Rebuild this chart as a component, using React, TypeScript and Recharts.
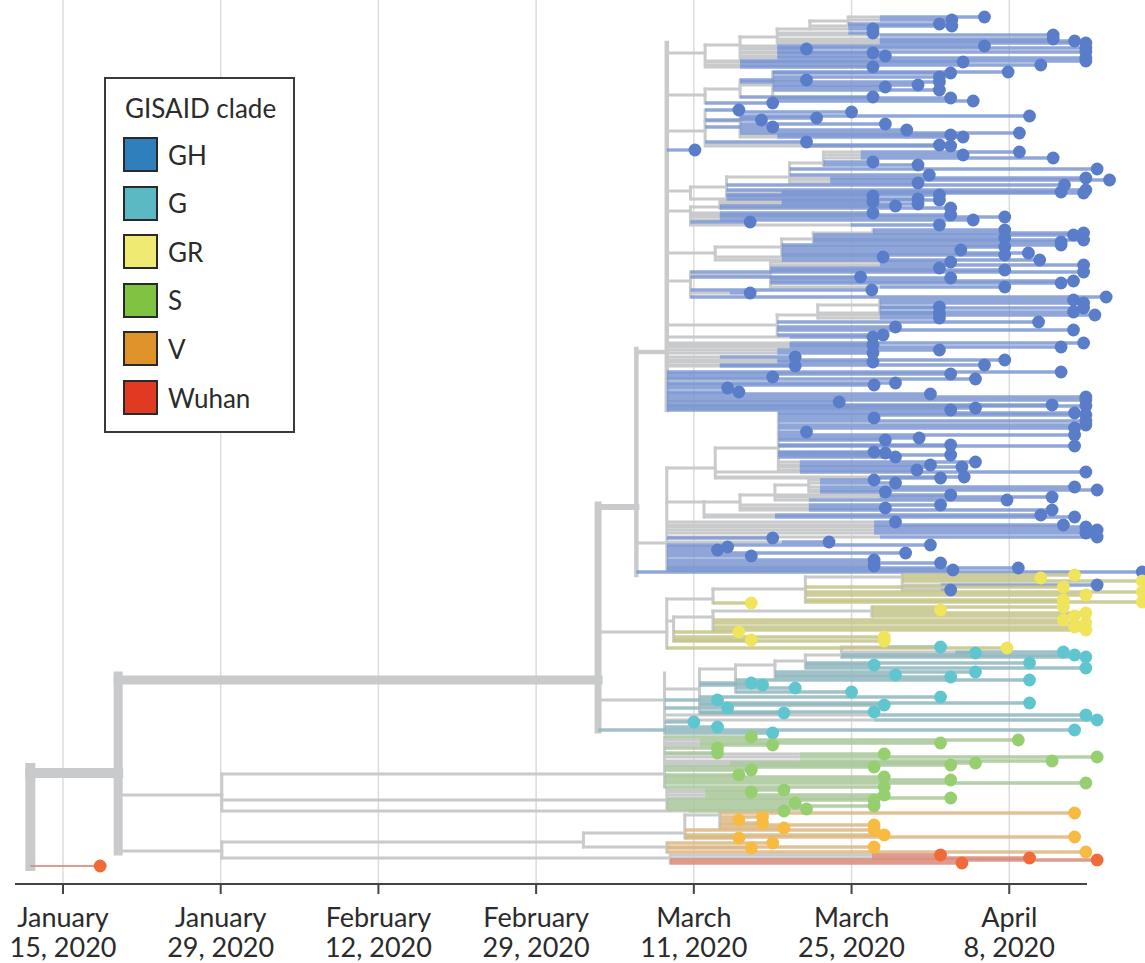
import React from "react";
import { ComposedChart, XAxis, YAxis, ReferenceLine, Scatter } from "recharts";

const FONT = "Lato, 'Noto Sans', sans-serif";

// x = days after January 15, 2020; y = leaf order in the tree (top to bottom)
const tickDays = [0, 14, 28, 42, 56, 70, 84];
const tickLabels = [
  ["January", "15, 2020"],
  ["January", "29, 2020"],
  ["February", "12, 2020"],
  ["February", "29, 2020"],
  ["March", "11, 2020"],
  ["March", "25, 2020"],
  ["April", "8, 2020"],
];

// leaf: [row, parent node day, day the clade colour starts, sampling day]
type Leaf = [number, number, number, number];
// edge: [row, from day, to day]; link: [day, top row, bottom row]
type Edge = [number, number, number];
type Link = [number, number, number];

const ghLeaves: Leaf[] = [
  [0, 69.7, 72.5, 81.8], [0.75, 69.7, 72.5, 78.9], [1.75, 69.7, 69.7, 77.8], [2.25, 66.3, 69.7, 78.9],
  [3, 66.3, 69.7, 71.9], [4, 63.4, 69.7, 71.9], [4.5, 63.4, 72.5, 87.9], [5.5, 63.4, 72.5, 87.9],
  [6, 63.4, 72.5, 89.8], [6.5, 63.4, 72.5, 90.8], [7.25, 60.1, 63.4, 81.8], [7.75, 60.1, 63.4, 90.8],
  [8, 60.1, 63.4, 66.0], [8.75, 60.1, 63.4, 90.8], [9, 60.1, 63.4, 71.9], [9.75, 60.1, 63.4, 73.0],
  [10.25, 60.1, 63.4, 90.8], [11, 57.0, 60.1, 90.8], [11.25, 57.0, 60.1, 79.9], [12, 57.0, 60.1, 86.8],
  [12.5, 57.0, 60.1, 71.9],
  [13.75, 63.0, 63.0, 83.9], [14, 63.0, 63.0, 78.8], [15, 63.0, 63.0, 77.8], [15.75, 60.1, 60.1, 66.0],
  [16.25, 60.1, 60.1, 77.8], [17, 63.0, 63.0, 75.9], [17.5, 63.0, 63.0, 73.0], [18.25, 63.0, 63.0, 77.8],
  [20, 60.1, 60.1, 71.9], [20.25, 63.0, 63.0, 78.8], [21, 63.0, 63.0, 80.8], [21.5, 57.0, 57.0, 63.0],
  [23.25, 57.0, 57.0, 60.0], [23.75, 60.1, 60.1, 70.0], [24.75, 60.1, 60.1, 85.8], [25.25, 60.1, 60.1, 66.9],
  [25.75, 57.0, 57.0, 62.0], [26.75, 60.1, 60.1, 73.0], [27.5, 57.0, 57.0, 63.0], [28.25, 60.1, 60.1, 74.9],
  [29, 60.1, 60.1, 84.9], [29.5, 60.1, 63.4, 78.8], [30, 60.1, 63.4, 79.9], [31.25, 57.0, 57.0, 66.0],
  [32, 57.0, 66.0, 77.8], [32.25, 57.0, 66.0, 78.8], [33.25, 53.6, 53.6, 56.1],
  [33.75, 67.5, 70.8, 84.9], [34.5, 67.5, 70.8, 79.9], [35.25, 67.5, 70.8, 87.9], [36.25, 67.5, 67.5, 71.9],
  [37, 67.5, 67.5, 75.9], [38, 64.5, 64.5, 91.8], [39.5, 64.5, 64.5, 76.9], [40.25, 64.5, 68.1, 90.8],
  [40.75, 64.5, 68.1, 92.9], [41.5, 64.5, 68.1, 75.9], [42, 58.9, 58.9, 88.9], [43.25, 58.9, 58.9, 90.8],
  [43.75, 58.9, 63.8, 88.6], [44, 58.9, 63.8, 90.6], [44.5, 58.9, 58.9, 77.8], [44.75, 58.9, 58.9, 71.9],
  [45.5, 55.7, 58.9, 75.9],
  [45.75, 58.3, 63.8, 77.8], [46.25, 58.3, 63.8, 71.9], [46.75, 58.3, 63.8, 75.9], [47.25, 58.3, 58.3, 73.9],
  [47.75, 58.3, 58.3, 78.8], [49, 55.7, 58.3, 71.9], [49.5, 55.7, 58.3, 78.8], [50, 55.7, 58.3, 83.6],
  [50.75, 55.7, 58.3, 80.8], [51.25, 55.7, 55.7, 61.0], [52, 55.7, 69.9, 77.8],
  [53.25, 71.9, 71.9, 83.6], [54, 71.9, 71.9, 90.6], [54.5, 66.6, 66.6, 89.7], [55.25, 66.6, 66.6, 83.6],
  [55.75, 66.6, 66.6, 90.6], [56.25, 66.6, 66.6, 88.6], [57, 63.8, 63.8, 88.6], [57.5, 63.8, 63.8, 83.6],
  [58.25, 63.8, 63.8, 79.7], [59, 63.8, 63.8, 85.7], [59.5, 63.8, 63.8, 83.6], [60, 57.9, 63.8, 72.8],
  [60.75, 57.9, 63.8, 86.7],
  [61.25, 62.8, 72.5, 78.8], [62, 62.8, 72.5, 90.6], [62.75, 62.8, 62.8, 77.8], [63.25, 62.8, 62.8, 83.6],
  [63.75, 55.7, 55.7, 90.6], [65, 55.7, 55.7, 70.8], [65.25, 62.8, 62.8, 78.8], [66, 62.8, 62.8, 89.7],
  [66.5, 62.8, 62.8, 88.6], [67.5, 62.8, 72.5, 83.6], [68.25, 55.7, 55.7, 71.8], [69, 55.7, 59.2, 61.0],
  [70, 55.7, 55.7, 92.6],
  [70.75, 72.5, 72.5, 89.7], [71.5, 72.5, 72.5, 90.6], [72.5, 72.5, 72.5, 77.8], [72.75, 72.5, 72.5, 90.6],
  [73.75, 72.5, 72.5, 89.7], [74, 67.0, 72.5, 77.8], [74.5, 67.0, 72.5, 91.6], [75.25, 67.0, 72.5, 77.8],
  [76.25, 63.4, 63.4, 86.6], [77.5, 63.4, 63.4, 73.9], [78.25, 63.4, 63.4, 89.7], [79.5, 63.4, 63.4, 72.8],
  [80, 53.6, 64.5, 71.9], [81.5, 53.6, 64.5, 90.6], [82, 53.6, 64.5, 71.9], [82.5, 53.6, 64.5, 88.6],
  [83.25, 53.6, 63.4, 77.8], [84, 53.6, 63.4, 71.9], [85, 53.6, 58.3, 65.0], [85.75, 53.6, 63.4, 83.6],
  [86.25, 53.6, 63.4, 71.9], [87, 53.6, 58.3, 81.8], [87.25, 53.6, 58.3, 65.0], [88.75, 53.6, 53.6, 88.6],
  [89.25, 53.6, 53.6, 78.8], [90, 53.6, 53.6, 63.0], [90.5, 53.6, 53.6, 81.0], [91.5, 53.6, 53.6, 73.9],
  [92, 53.6, 53.6, 72.0], [92.75, 53.6, 53.6, 59.0], [93.75, 53.6, 53.6, 60.0], [94.25, 53.6, 53.6, 77.0],
  [95, 53.6, 53.6, 90.8], [95.75, 53.6, 53.6, 90.8], [96.25, 53.6, 53.6, 68.9], [97, 53.6, 53.6, 87.8],
  [97.25, 53.6, 53.6, 90.8], [97.75, 53.6, 53.6, 81.0], [98.25, 53.6, 53.6, 78.8],
  [99, 63.5, 63.5, 89.8], [99.5, 63.5, 63.5, 90.8], [100.25, 63.5, 63.5, 72.0], [101, 63.5, 63.5, 90.8],
  [102, 63.5, 63.5, 90.8], [102.75, 63.5, 63.5, 89.8], [103.75, 63.5, 63.5, 66.0], [104.5, 63.5, 63.5, 89.8],
  [105.25, 63.5, 63.5, 76.0], [105.75, 63.5, 63.5, 73.0], [107, 63.5, 63.5, 78.8], [107.25, 63.5, 63.5, 89.8],
  [108.75, 63.5, 63.5, 72.0], [109, 63.5, 63.5, 73.0], [109.5, 63.5, 63.5, 78.8], [110, 63.5, 63.5, 73.9],
  [111.25, 63.5, 65.4, 81.0], [112, 63.5, 65.4, 77.0], [112.5, 63.5, 65.4, 79.8], [113.25, 63.5, 65.4, 75.8],
  [113.75, 57.9, 65.4, 90.8], [115, 57.9, 72.5, 80.0], [115.25, 57.9, 72.5, 77.9],
  [115.75, 66.2, 67.2, 72.0], [116.5, 66.2, 67.2, 73.9], [117.5, 66.2, 67.2, 89.8], [118.25, 66.2, 67.2, 91.8],
  [118.75, 66.2, 67.2, 73.0], [119.5, 63.2, 72.5, 78.8], [120, 63.2, 72.5, 87.8], [120.75, 63.2, 66.2, 83.8],
  [122, 60.1, 66.2, 77.9], [122.75, 60.1, 66.2, 73.0], [123.25, 60.1, 66.2, 87.8], [124.5, 56.9, 63.2, 86.8],
  [125, 56.9, 63.2, 89.8], [126.25, 53.6, 72.0, 73.9], [127, 53.6, 72.0, 88.8], [127.5, 53.6, 72.0, 90.8],
  [128.25, 53.6, 72.0, 91.8], [129, 53.6, 72.0, 90.8], [130, 53.6, 72.5, 91.8], [130.25, 53.6, 53.6, 63.0],
  [131.25, 53.6, 63.8, 68.0], [132, 53.6, 53.6, 77.0], [132.5, 53.6, 53.6, 59.0], [133.25, 53.6, 53.6, 58.1],
  [134, 53.6, 53.6, 74.8], [134.75, 53.6, 53.6, 61.1], [135.75, 53.6, 53.6, 72.0], [136.5, 53.6, 53.6, 77.9],
  [137.25, 53.6, 53.6, 72.0], [137.75, 53.6, 53.6, 84.8], [138.25, 53.6, 53.6, 79.0], [138.75, 50.9, 50.9, 95.8],
  [142, 74.5, 77.9, 91.8], [143.25, 74.5, 77.9, 78.8],
];

const grLeaves: Leaf[] = [
  [139.5, 74.5, 74.5, 89.8], [140.25, 74.5, 74.5, 86.8], [141, 74.5, 74.5, 95.8], [142.5, 65.9, 65.9, 88.8],
  [143.75, 65.9, 65.9, 95.8], [144.5, 65.9, 65.9, 90.8], [145.75, 65.9, 65.9, 88.8], [146.25, 65.9, 65.9, 95.8],
  [146.5, 57.7, 57.7, 61.1], [147.5, 71.8, 71.8, 88.8], [148.25, 71.8, 71.8, 77.9], [149, 71.8, 71.8, 90.8],
  [149.75, 71.8, 71.8, 89.8], [150.75, 57.7, 57.7, 88.8], [151.5, 57.7, 57.7, 90.8], [152.5, 57.7, 57.7, 89.8],
  [153.25, 57.7, 57.7, 90.8], [153.75, 54.2, 54.2, 60.0], [155, 54.2, 54.2, 72.9], [155.75, 54.2, 54.2, 61.1],
  [156, 54.2, 54.2, 72.9], [157.75, 53.6, 53.6, 83.8],
];

const gLeaves: Leaf[] = [
  [157.5, 69.1, 73.0, 77.9], [158.75, 69.1, 79.2, 88.8], [159, 69.1, 79.2, 81.0], [159.5, 69.1, 69.1, 89.8],
  [160, 69.1, 69.1, 90.8], [161.5, 65.9, 65.9, 85.8], [162, 65.9, 65.9, 72.0], [162.75, 65.9, 65.9, 90.8],
  [163.75, 63.2, 63.2, 81.0], [164.5, 63.2, 63.2, 73.9], [165, 63.2, 63.2, 78.8], [165.75, 59.7, 59.7, 85.8],
  [166.5, 56.5, 56.5, 61.1], [167, 56.5, 56.5, 62.1], [167.75, 59.7, 59.7, 65.0], [168.75, 59.7, 59.7, 70.0],
  [170, 56.5, 56.5, 77.9], [170.75, 53.4, 53.4, 58.1], [171.5, 56.5, 56.5, 85.8], [172, 56.5, 56.5, 72.9],
  [172.75, 53.4, 53.4, 59.0], [173.75, 56.5, 56.5, 72.0], [174, 56.5, 56.5, 64.0], [174.5, 53.4, 72.0, 90.8],
  [175.75, 53.4, 72.0, 91.8], [176.25, 53.4, 53.4, 56.0], [177.5, 53.4, 53.4, 58.1], [178.25, 47.5, 47.5, 89.8],
  [179, 53.4, 53.4, 63.0],
];

const sLeaves: Leaf[] = [
  [180, 53.4, 53.4, 61.1], [180.75, 53.4, 56.5, 84.8], [181.5, 53.4, 56.5, 77.9], [182, 53.4, 56.5, 63.0],
  [182.75, 53.4, 53.4, 58.1], [184, 53.4, 53.4, 58.1], [184.25, 53.4, 65.4, 72.9], [185, 53.4, 65.4, 91.8],
  [186, 53.4, 65.4, 87.8], [186.5, 53.4, 59.2, 81.0], [187, 53.4, 59.2, 78.8], [187.5, 53.4, 53.4, 72.0],
  [188.25, 53.4, 53.4, 61.1], [189.5, 53.4, 53.4, 60.0], [190, 53.4, 53.4, 72.9], [190.75, 53.4, 53.4, 78.8],
  [191.5, 53.4, 53.4, 90.8], [192.5, 53.4, 53.4, 72.9],
  [193.25, 53.6, 57.0, 64.0], [193.75, 53.6, 57.0, 61.1], [194.5, 53.6, 57.0, 72.9], [195.25, 53.6, 57.0, 78.8],
  [195.75, 53.6, 53.6, 72.0], [196.5, 53.6, 53.6, 65.0], [197.25, 53.6, 53.6, 72.0], [198, 53.6, 53.6, 66.0],
  [198.5, 14.1, 55.5, 64.0],
];

const vLeaves: Leaf[] = [
  [199, 58.3, 58.3, 89.8], [200, 58.3, 58.3, 62.1], [200.75, 58.3, 58.3, 60.0], [201.5, 58.3, 58.3, 62.1],
  [202, 58.3, 58.3, 72.0], [202.75, 58.3, 58.3, 64.0], [203.25, 55.2, 55.2, 72.0], [204.5, 55.2, 55.2, 72.9],
  [205, 55.2, 55.2, 89.8], [205.25, 55.2, 55.2, 60.0], [206.5, 53.6, 53.6, 63.0], [207.5, 53.6, 53.6, 72.0],
  [207.75, 53.6, 53.6, 61.1], [208.75, 53.6, 53.6, 90.8],
];

const wuhanLeaves: Leaf[] = [
  [209.5, 53.9, 71.8, 77.9], [210.25, 53.9, 71.8, 85.8], [210.75, 53.9, 53.9, 91.8], [211.5, 53.9, 53.9, 79.8],
];

const rootLeaf: Leaf = [212.25, -2.9, -2.9, 3.3];

// backbone, from the root to the large GH group
const rootEdges: Edge[] = [[189, -2.9, 4.9]];
const rootLinks: Link[] = [[-2.9, 187.75, 212.25]];
const trunkEdges: Edge[] = [[165.75, 4.9, 47.5]];
const trunkLinks: Link[] = [[4.9, 164.75, 208.5]];
const stemEdges: Edge[] = [[122.5, 47.5, 50.9]];
const stemLinks: Link[] = [[47.5, 122, 178.25]];
const branchEdges: Edge[] = [[83.75, 50.9, 53.6]];
const branchLinks: Link[] = [[50.9, 83, 139.5], [53.6, 6.5, 98.25]];

// thin internal branches
const innerEdges: Edge[] = [
  [9, 53.6, 57.0], [7, 57.0, 60.1], [5, 60.1, 63.4], [3, 63.4, 66.3], [1, 66.3, 69.7],
  [19.5, 53.6, 57.0], [18, 57.0, 60.1], [17, 60.1, 63.0],
  [28.5, 53.6, 57.0], [26, 57.0, 60.1],
  [43.5, 53.6, 55.7], [42.5, 55.7, 58.9], [40, 58.9, 64.5], [36.5, 64.5, 67.5],
  [48.5, 53.6, 55.7], [47.5, 55.7, 58.3],
  [59, 53.6, 57.9], [57.5, 57.9, 63.8], [55.5, 63.8, 66.6], [54, 66.6, 71.9],
  [66, 53.6, 55.7], [64.5, 55.7, 62.8],
  [77, 53.6, 63.4], [74.5, 63.4, 67.0], [72, 67.0, 72.5],
  [131.5, 50.9, 53.6], [112.75, 53.6, 57.9], [107.75, 57.9, 63.5],
  [121.25, 53.6, 56.9], [121.25, 56.9, 60.1], [119.5, 60.1, 63.2], [117, 63.2, 66.2],
  [153.75, 47.5, 53.6], [145.5, 53.6, 57.7], [143, 57.7, 65.9], [140, 65.9, 74.5],
  [151, 53.6, 54.2], [150, 54.2, 57.7], [148.5, 57.7, 71.8],
  [170.75, 47.5, 53.4], [168, 53.4, 56.5], [163, 56.5, 59.7], [162, 59.7, 63.2], [161, 63.2, 65.9], [159.5, 65.9, 69.1],
  [194.5, 4.9, 14.1], [208.5, 4.9, 14.1],
  [189.25, 14.1, 53.4], [195.75, 14.1, 53.6],
  [206.25, 14.1, 46.2], [204, 46.2, 55.2], [199.5, 55.2, 58.3], [207.5, 46.2, 53.6],
  [210.25, 14.1, 53.9],
];

const innerLinks: Link[] = [
  [57.0, 7, 12.5], [60.1, 5, 10.25], [63.4, 3, 6.5], [66.3, 1, 3], [69.7, 0, 1.75],
  [57.0, 18, 21.5], [60.1, 15.75, 20], [63.0, 13.75, 21],
  [57.0, 23.25, 32.25], [60.1, 23.75, 30],
  [55.7, 42.5, 45.5], [58.9, 40, 44.75], [64.5, 36.5, 41.5], [67.5, 33.75, 37],
  [55.7, 47.5, 52], [58.3, 45.75, 47.75],
  [57.9, 57.5, 60.75], [63.8, 55.5, 59.5], [66.6, 54, 56.25], [71.9, 53.25, 54],
  [55.7, 63.75, 70], [62.8, 61.25, 67.5],
  [63.4, 74.5, 79.5], [67.0, 72, 75.25], [72.5, 70.75, 73.75],
  [53.6, 112.75, 138.25], [57.9, 107.75, 115.25], [63.5, 99, 113.25],
  [56.9, 121.25, 125], [60.1, 119.5, 123.25], [63.2, 117, 120.75], [66.2, 115.75, 118.75],
  [53.6, 145.5, 157.75], [57.7, 143, 146.5], [65.9, 140, 146.25], [74.5, 139.5, 143.25],
  [54.2, 150, 156], [57.7, 148.5, 153.25], [71.8, 147.5, 149.75],
  [53.4, 164, 179], [56.5, 163, 174], [59.7, 162, 168.75], [63.2, 161, 165], [65.9, 159.5, 162.75], [69.1, 157.5, 160],
  [14.1, 189.25, 198.5], [14.1, 206.25, 210.25],
  [53.4, 180, 192.5], [53.6, 193.25, 198],
  [46.2, 204, 207.5], [55.2, 199.5, 205.25], [58.3, 199, 202.75], [53.6, 206.5, 208.75],
  [53.9, 209.5, 211.5],
];

const clades = ["GH", "G", "GR", "S", "V", "Wuhan"];

const GRAY = "#c9cacc";
const cladeColors: Record<string, { line: string; dot: string; swatch: string }> = {
  GH: { line: "#7c96d1", dot: "#5a7dca", swatch: "#2f7fbd" },
  G: { line: "#8fb6bd", dot: "#5fc6d0", swatch: "#5bb9c4" },
  GR: { line: "#c4c489", dot: "#efe45c", swatch: "#eeea72" },
  S: { line: "#a8c79a", dot: "#96cf70", swatch: "#80c242" },
  V: { line: "#dbb784", dot: "#f8bb42", swatch: "#e0932a" },
  Wuhan: { line: "#d8897a", dot: "#f06a3a", swatch: "#e03a22" },
};

const leavesByClade: Record<string, Leaf[]> = {
  GH: ghLeaves,
  G: gLeaves,
  GR: grLeaves,
  S: sLeaves,
  V: vLeaves,
  Wuhan: [...wuhanLeaves, rootLeaf],
};

function edgeLines(key: string, edges: Edge[], width: number) {
  return edges.map(([row, a, b], i) => (
    <ReferenceLine
      key={`${key}-e${i}`}
      segment={[{ x: a, y: row }, { x: b, y: row }]}
      stroke={GRAY}
      strokeWidth={width}
      strokeLinecap="square"
    />
  ));
}

function linkLines(key: string, links: Link[], width: number) {
  return links.map(([day, r1, r2], i) => (
    <ReferenceLine
      key={`${key}-l${i}`}
      segment={[{ x: day, y: r1 }, { x: day, y: r2 }]}
      stroke={GRAY}
      strokeWidth={width}
      strokeLinecap="square"
    />
  ));
}

function DateTick(props: any) {
  const { x, y, payload } = props;
  const label = tickLabels[tickDays.indexOf(payload.value)] ?? ["", ""];
  return (
    <text x={x} y={y} textAnchor="middle" fontFamily={FONT} fontSize={27} fill="#2b2b2b">
      <tspan x={x} dy={31}>{label[0]}</tspan>
      <tspan x={x} dy={30}>{label[1]}</tspan>
    </text>
  );
}

function CladeLegend() {
  return (
    <div
      style={{
        position: "absolute",
        left: 104,
        top: 77,
        width: 187,
        height: 352,
        border: "2px solid #3a3a3a",
        background: "#fff",
        fontFamily: FONT,
        color: "#2b2b2b",
      }}
    >
      <div style={{ position: "absolute", left: 19, top: 13, fontSize: 26, whiteSpace: "nowrap" }}>GISAID clade</div>
      {clades.map((c, i) => (
        <div key={c} style={{ position: "absolute", left: 17, top: 58 + i * 48.6, display: "flex", alignItems: "center" }}>
          <div
            style={{
              width: 31,
              height: 31,
              background: cladeColors[c].swatch,
              border: "2px solid #2a2a2a",
            }}
          />
          <span style={{ marginLeft: 10, fontSize: 26 }}>{c}</span>
        </div>
      ))}
    </div>
  );
}

export default function App() {
  return (
    <div style={{ position: "absolute", left: 0, top: 0, width: 1145, height: 963, background: "#fff" }}>
      <ComposedChart
        width={1145}
        height={963}
        margin={{ top: 0, right: 0, bottom: 0, left: 15 }}
        accessibilityLayer={false}
        style={{ outline: "none" }}
      >
        <XAxis
          type="number"
          dataKey="x"
          domain={[-4.26, 96.05]}
          allowDataOverflow
          ticks={tickDays}
          interval={0}
          axisLine={false}
          tickLine={{ stroke: "#444", strokeWidth: 2 }}
          tickSize={9}
          height={78}
          tick={<DateTick />}
        />
        <YAxis type="number" dataKey="y" domain={[-4.25, 217]} reversed hide allowDataOverflow />

        {tickDays.map((d) => (
          <ReferenceLine key={`grid-${d}`} x={d} stroke="#dcdcdc" strokeWidth={1.5} />
        ))}

        {edgeLines("root", rootEdges, 10)}
        {linkLines("root", rootLinks, 10)}
        {edgeLines("trunk", trunkEdges, 9)}
        {linkLines("trunk", trunkLinks, 9)}
        {edgeLines("stem", stemEdges, 6)}
        {linkLines("stem", stemLinks, 7)}
        {edgeLines("branch", branchEdges, 4.5)}
        {linkLines("branch", branchLinks, 4.5)}
        {edgeLines("inner", innerEdges, 3)}
        {linkLines("inner", innerLinks, 3)}

        {clades.map((c) =>
          leavesByClade[c]
            .filter(([, from, start]) => start > from)
            .map(([row, from, start], i) => (
              <ReferenceLine
                key={`${c}-g${i}`}
                segment={[{ x: from, y: row }, { x: start, y: row }]}
                stroke={GRAY}
                strokeWidth={3}
              />
            ))
        )}
        {clades.map((c) =>
          leavesByClade[c].map(([row, , start, tip], i) => (
            <ReferenceLine
              key={`${c}-c${i}`}
              segment={[{ x: start, y: row }, { x: tip, y: row }]}
              stroke={cladeColors[c].line}
              strokeWidth={c === "Wuhan" && row > 212 ? 2 : 3.3}
              strokeOpacity={0.85}
            />
          ))
        )}

        <ReferenceLine
          segment={[{ x: -4.26, y: 216.75 }, { x: 90.9, y: 216.75 }]}
          stroke="#444"
          strokeWidth={2}
        />

        {clades.map((c) => (
          <Scatter
            key={c}
            name={c}
            data={leavesByClade[c].map(([row, , , tip]) => ({ x: tip, y: row }))}
            isAnimationActive={false}
            shape={(p: any) => <circle cx={p.cx} cy={p.cy} r={6.4} fill={cladeColors[c].dot} />}
          />
        ))}
      </ComposedChart>
      <CladeLegend />
    </div>
  );
}
